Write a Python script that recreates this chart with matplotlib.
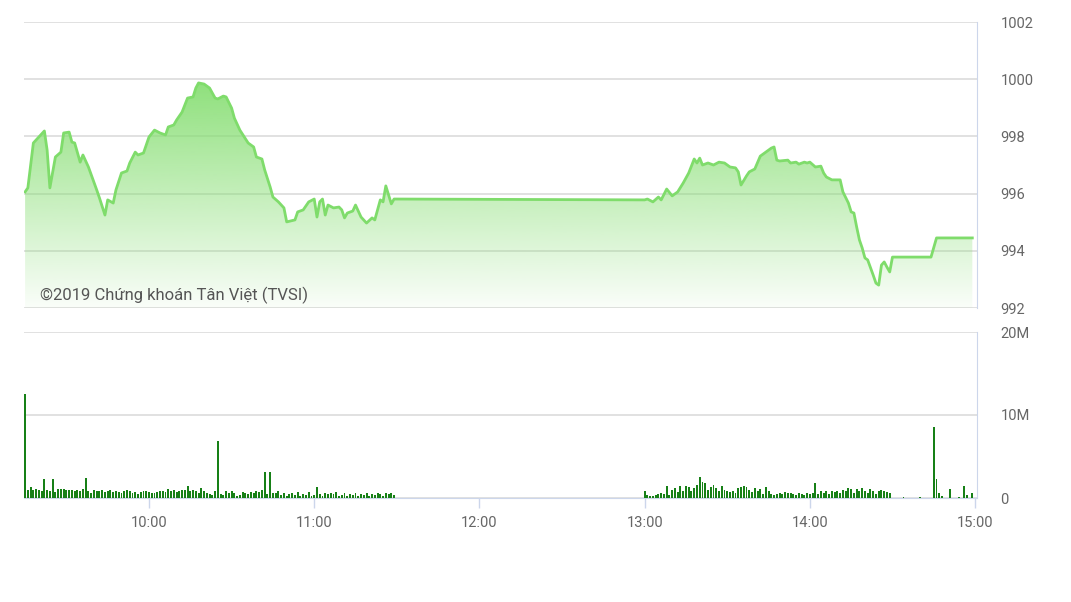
import numpy as np
import matplotlib
matplotlib.use("Agg")
import matplotlib.pyplot as plt
from matplotlib.patches import PathPatch

plt.rcParams['font.family'] = ['Roboto', 'DejaVu Sans']

# Price (index)
price_times = [
    "09:15", "09:16", "09:18", "09:20", "09:22", "09:23", "09:24", "09:26", "09:28", "09:29",
    "09:31", "09:32", "09:33", "09:35", "09:36", "09:38", "09:41", "09:42", "09:44", "09:45",
    "09:47", "09:48", "09:50", "09:52", "09:53", "09:55", "09:56", "09:58", "10:00", "10:02",
    "10:04", "10:06", "10:07", "10:09", "10:10", "10:12", "10:14", "10:16", "10:17", "10:18",
    "10:20", "10:22", "10:24", "10:25", "10:27", "10:28", "10:30", "10:31", "10:33", "10:36",
    "10:38", "10:39", "10:41", "10:42", "10:44", "10:45", "10:47", "10:49", "10:50", "10:53",
    "10:54", "10:56", "10:58", "11:00", "11:01", "11:02", "11:03", "11:04", "11:05", "11:07",
    "11:09", "11:10", "11:11", "11:12", "11:14", "11:15", "11:17", "11:19", "11:21", "11:22",
    "11:24", "11:25", "11:26", "11:28", "11:29",
    "13:00", "13:01", "13:03", "13:05", "13:06", "13:08", "13:10", "13:12", "13:14", "13:16",
    "13:18", "13:19", "13:20", "13:21", "13:23", "13:25", "13:27", "13:29", "13:31", "13:33",
    "13:34", "13:35", "13:37", "13:38", "13:40", "13:42", "13:44", "13:46", "13:47", "13:48",
    "13:49", "13:52", "13:53", "13:55", "13:56", "13:58", "13:59", "14:00", "14:02", "14:04",
    "14:05", "14:06", "14:08", "14:11", "14:12", "14:14", "14:15", "14:16", "14:17", "14:18",
    "14:19", "14:20", "14:21", "14:23", "14:24", "14:25", "14:26", "14:27", "14:28", "14:29",
    "14:30", "14:44", "14:46", "14:59",
]
price_values = [
    996.06, 996.20, 997.77, 997.98, 998.19, 997.52, 996.20, 997.28, 997.45, 998.12,
    998.15, 997.80, 997.77, 997.10, 997.35, 996.93, 996.13, 995.85, 995.25, 995.78,
    995.67, 996.13, 996.72, 996.79, 997.07, 997.45, 997.35, 997.42, 997.98, 998.22,
    998.12, 998.05, 998.33, 998.40, 998.57, 998.85, 999.34, 999.38, 999.69, 999.87,
    999.83, 999.69, 999.34, 999.31, 999.41, 999.38, 998.99, 998.64, 998.22, 997.77,
    997.63, 997.28, 997.21, 996.83, 996.23, 995.88, 995.71, 995.50, 995.01, 995.08,
    995.36, 995.43, 995.71, 995.81, 995.18, 995.71, 995.81, 995.25, 995.60, 995.50,
    995.53, 995.43, 995.15, 995.32, 995.39, 995.60, 995.18, 994.97, 995.15, 995.08,
    995.78, 995.71, 996.27, 995.64, 995.81,
    995.78, 995.81, 995.71, 995.88, 995.78, 996.16, 995.92, 996.06, 996.37, 996.72,
    997.21, 997.07, 997.24, 997.00, 997.07, 997.00, 997.10, 997.07, 996.93, 996.90,
    996.76, 996.30, 996.62, 996.76, 996.86, 997.31, 997.45, 997.59, 997.63, 997.17,
    997.14, 997.17, 997.07, 997.10, 997.03, 997.10, 997.07, 997.10, 996.93, 996.96,
    996.72, 996.58, 996.48, 996.48, 996.06, 995.67, 995.36, 995.32, 994.83, 994.38,
    994.10, 993.75, 993.68, 993.15, 992.87, 992.80, 993.50, 993.61, 993.43, 993.26,
    993.78, 993.78, 994.45, 994.45,
]

# Volume per minute (millions), morning 09:15-11:29, afternoon 13:00-14:29
vol_morning = [
    12.5, 1.0, 1.3, 1.0, 1.1, 1.0, 0.9, 2.3, 1.0, 0.8,
    2.3, 0.7, 1.1, 1.1, 1.1, 1.0, 1.0, 1.0, 0.9, 1.0,
    0.8, 1.1, 2.4, 0.9, 0.6, 1.0, 0.9, 0.8, 1.0, 0.7,
    0.9, 1.0, 0.7, 0.8, 0.7, 0.6, 0.9, 1.0, 0.8, 0.6,
    0.7, 0.5, 0.7, 0.9, 0.8, 0.7, 0.6, 0.6, 0.7, 0.8,
    0.9, 0.7, 1.1, 0.8, 1.0, 0.7, 0.8, 1.0, 1.0, 1.4,
    0.9, 1.0, 0.8, 0.6, 1.2, 0.8, 0.6, 0.5, 0.4, 0.9,
    6.9, 0.5, 0.4, 0.8, 0.6, 0.9, 0.6, 0.3, 0.4, 0.7,
    0.6, 0.5, 0.7, 0.6, 0.8, 0.7, 1.0, 3.1, 0.5, 3.1,
    0.6, 0.6, 0.8, 0.4, 0.6, 0.3, 0.5, 0.6, 0.4, 0.7,
    0.3, 0.5, 0.4, 0.7, 0.3, 0.4, 1.3, 0.5, 0.3, 0.6,
    0.5, 0.6, 0.5, 0.7, 0.3, 0.4, 0.6, 0.3, 0.5, 0.4,
    0.6, 0.3, 0.5, 0.4, 0.6, 0.3, 0.5, 0.4, 0.6, 0.5,
    0.3, 0.6, 0.5, 0.6, 0.4,
]
vol_afternoon = [
    0.8, 0.4, 0.3, 0.3, 0.4, 0.5, 0.6, 0.5, 1.5, 0.4,
    1.0, 1.2, 0.7, 1.4, 0.8, 1.5, 1.3, 0.9, 1.2, 1.6,
    2.5, 1.9, 1.8, 1.0, 1.3, 1.6, 1.2, 0.9, 1.5, 1.0,
    0.9, 0.7, 0.8, 0.6, 1.2, 1.3, 1.4, 1.3, 1.0, 0.7,
    1.2, 0.9, 1.1, 0.5, 1.3, 0.8, 0.5, 0.4, 0.5, 0.6,
    0.5, 0.7, 0.6, 0.6, 0.5, 0.4, 0.6, 0.5, 0.4, 0.6,
    0.5, 0.6, 1.8, 0.5, 0.8, 0.6, 0.9, 0.5, 0.8, 0.7,
    0.9, 0.6, 1.0, 0.8, 1.2, 1.1, 0.6, 1.1, 0.9, 1.2,
    0.8, 0.6, 1.1, 0.9, 0.5, 0.9, 1.0, 0.8, 0.7, 0.6,
]
vol_close_times = ["14:34", "14:40", "14:45", "14:46", "14:47", "14:48", "14:51", "14:54", "14:56", "14:57", "14:59"]
vol_close_values = [0.1, 0.1, 8.5, 2.3, 0.6, 0.3, 1.1, 0.1, 1.5, 0.4, 0.6]

price_ticks = [992, 994, 996, 998, 1000, 1002]
vol_ticks = [0, 10, 20]
vol_tick_labels = ["0", "10M", "20M"]
hour_labels = ["10:00", "11:00", "12:00", "13:00", "14:00", "15:00"]
watermark = "©2019 Chứng khoán Tân Việt (TVSI)"


def to_min(s):
    h, m = s.split(":")
    return int(h) * 60 + int(m)


px = np.array([to_min(t) for t in price_times])
py = np.array(price_values)
vx = np.concatenate([to_min("09:15") + np.arange(len(vol_morning)),
                     to_min("13:00") + np.arange(len(vol_afternoon)),
                     [to_min(t) for t in vol_close_times]])
vy = np.array(vol_morning + vol_afternoon + vol_close_values)
hour_pos = [to_min(h) for h in hour_labels]

xmin, xmax = to_min("09:15") - 0.4, to_min("15:00") + 0.7
grid_c = "#dcdcdc"
axis_c = "#ccd6eb"
label_c = "#666666"

fig = plt.figure(figsize=(10.71, 6.02), dpi=100)
ax1 = fig.add_axes([24 / 1071, 1 - 308 / 602, 953 / 1071, 286 / 602])
ax2 = fig.add_axes([24 / 1071, 1 - 498 / 602, 953 / 1071, 166 / 602])

# --- price panel with vertical gradient fill
ax1.set_xlim(xmin, xmax)
ax1.set_ylim(992, 1002)
fill = ax1.fill_between(px, py, 992, color="none", lw=0)
rgba = np.zeros((256, 1, 4))
rgba[..., 0] = 0x86 / 255
rgba[..., 1] = 0xde / 255
rgba[..., 2] = 0x72 / 255
rgba[..., 3] = np.linspace(1.0, 0.04, 256).reshape(-1, 1)
img = ax1.imshow(rgba, extent=[xmin, xmax, 992, 1000.5], aspect="auto", origin="upper", zorder=1)
clip = PathPatch(fill.get_paths()[0], transform=ax1.transData, facecolor="none", edgecolor="none")
ax1.add_patch(clip)
img.set_clip_path(clip)
ax1.plot(px, py, color="#7fdc6b", lw=2, zorder=3, solid_joinstyle="round")
ax1.set_xlim(xmin, xmax)
ax1.set_ylim(992, 1002)

ax1.set_yticks(price_ticks)
ax1.yaxis.tick_right()
ax1.tick_params(axis="y", length=0, pad=17, labelsize=10.5, labelcolor=label_c)
ax1.set_xticks([])
ax1.grid(axis="y", color=grid_c, lw=1.2)
ax1.set_axisbelow(True)
for s in ["top", "left", "bottom"]:
    ax1.spines[s].set_visible(False)
ax1.spines["right"].set_color(axis_c)
ax1.text(16 / 953, 0.045, watermark, transform=ax1.transAxes, fontsize=12,
         color="#555555", va="center", ha="left", zorder=4)

# --- volume panel
ax2.bar(vx, vy, width=0.7, color="#178017", align="center", zorder=3)
ax2.set_xlim(xmin, xmax)
ax2.set_ylim(0, 20)
ax2.set_yticks(vol_ticks)
ax2.set_yticklabels(vol_tick_labels)
ax2.yaxis.tick_right()
ax2.tick_params(axis="y", length=0, pad=17, labelsize=10.5, labelcolor=label_c)
ax2.set_xticks(hour_pos)
ax2.set_xticklabels(hour_labels)
ax2.tick_params(axis="x", length=7, width=1, color=axis_c, pad=6, labelsize=10.5, labelcolor=label_c)
ax2.grid(axis="y", color=grid_c, lw=1.2)
ax2.set_axisbelow(True)
ax2.spines["top"].set_visible(False)
ax2.spines["left"].set_visible(False)
ax2.spines["right"].set_color(axis_c)
ax2.spines["bottom"].set_color(axis_c)

fig.savefig("out.png", dpi=100, facecolor="white")
